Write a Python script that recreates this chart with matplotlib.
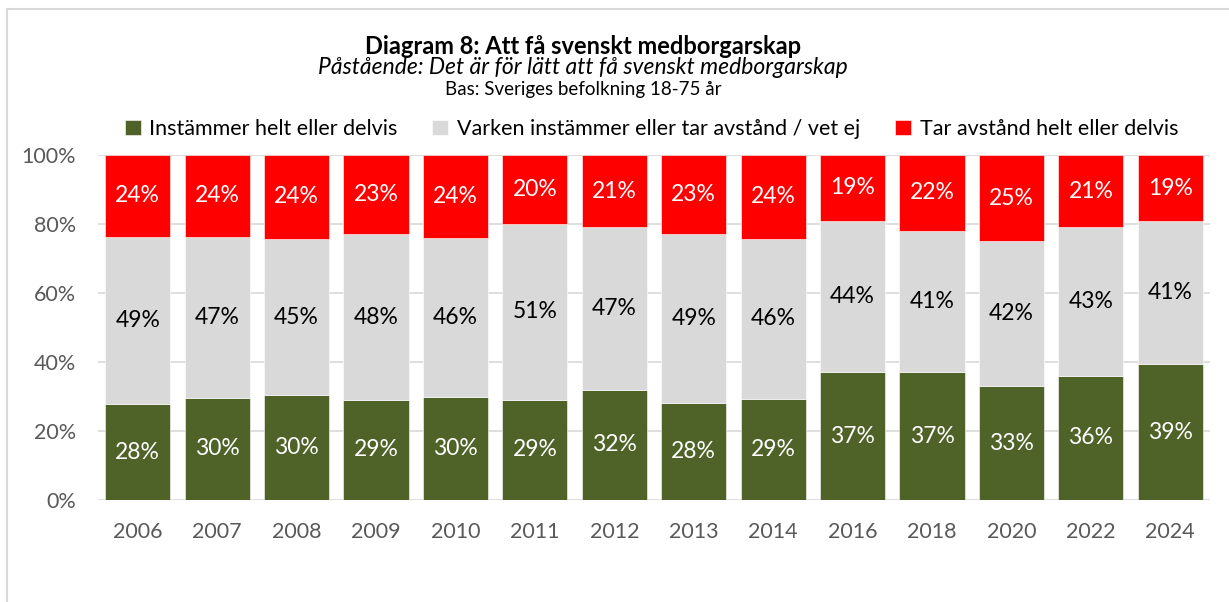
import matplotlib
matplotlib.use("Agg")
import matplotlib.pyplot as plt
from matplotlib.patches import Rectangle
import numpy as np

years = ["2006", "2007", "2008", "2009", "2010", "2011", "2012", "2013", "2014",
         "2016", "2018", "2020", "2022", "2024"]
agree = [28, 30, 30, 29, 30, 29, 32, 28, 29, 37, 37, 33, 36, 39]
neutral = [49, 47, 45, 48, 46, 51, 47, 49, 46, 44, 41, 42, 43, 41]
disagree = [24, 24, 24, 23, 24, 20, 21, 23, 24, 19, 22, 25, 21, 19]
series_names = ["Instämmer helt eller delvis",
                "Varken instämmer eller tar avstånd / vet ej",
                "Tar avstånd helt eller delvis"]
colors = ["#4F6228", "#D9D9D9", "#FF0000"]
label_colors = ["white", "black", "white"]

plt.rcParams['font.family'] = ['Lato', 'DejaVu Sans']

W, H = 1229, 602
fig = plt.figure(figsize=(W / 100, H / 100), dpi=100)
ax = fig.add_axes([98 / W, 1 - 500 / H, (1210 - 98) / W, (500 - 155) / H])

data = np.array([agree, neutral, disagree], dtype=float)
totals = data.sum(axis=0)
norm = data / totals * 100

x = np.arange(len(years))
bottom = np.zeros(len(years))
for i in range(3):
    ax.bar(x, norm[i], 0.82, bottom=bottom, color=colors[i],
           edgecolor="white", linewidth=0.4, label=series_names[i], zorder=3)
    for j in range(len(years)):
        ax.text(x[j], bottom[j] + norm[i][j] / 2, f"{int(data[i][j])}%",
                ha="center", va="center", color=label_colors[i], fontsize=16.5, zorder=4)
    bottom += norm[i]

ax.set_xlim(-0.5, len(years) - 0.5)
ax.set_ylim(0, 100)
ax.set_yticks(range(0, 101, 20))
ax.set_yticklabels([f"{v}%" for v in range(0, 101, 20)])
ax.set_xticks(x)
ax.set_xticklabels(years)
ax.tick_params(axis="both", length=0, labelsize=15.5, labelcolor="#595959")
ax.tick_params(axis="x", pad=16)
ax.tick_params(axis="y", pad=16)
ax.grid(axis="y", color="#D9D9D9", linewidth=1.2, zorder=0)
for s in ax.spines.values():
    s.set_visible(False)

fig.legend(loc="center", bbox_to_anchor=(0.53, 1 - 129 / H), ncol=3,
           frameon=False, fontsize=15.5, handlelength=0.75, handleheight=0.75,
           handletextpad=0.4, columnspacing=1.6)

cx = 583 / W
fig.text(cx, 1 - 46 / H, "Diagram 8: Att få svenskt medborgarskap",
         ha="center", va="center", fontsize=17, fontweight="bold")
fig.text(cx, 1 - 67 / H, "Påstående: Det är för lätt att få svenskt medborgarskap",
         ha="center", va="center", fontsize=16.5, style="italic")
fig.text(cx, 1 - 89 / H, "Bas: Sveriges befolkning 18-75 år",
         ha="center", va="center", fontsize=13.5)

fig.patches.append(Rectangle((7 / W, -0.1), 1.2, 1.1 - 9 / H, transform=fig.transFigure,
                             fill=False, edgecolor="#D9D9D9", linewidth=1.5))

fig.savefig("out.png", dpi=100)
